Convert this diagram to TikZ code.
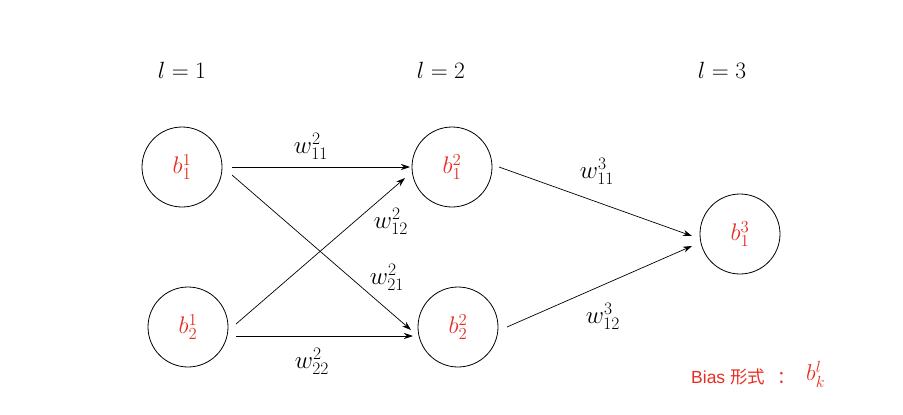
\RequirePackage{fix-cm}
\documentclass[tikz,border=0pt]{standalone}
\usepackage{amsmath}
\usepackage{fontspec}
\newfontfamily\cjk{Noto Sans CJK SC}
\newfontfamily\arialike{Liberation Sans}
\usetikzlibrary{arrows.meta}
\definecolor{bred}{RGB}{232,45,35}
\begin{document}
\begin{tikzpicture}[x=1pt,y=-1pt,
  neuron/.style={circle,draw=black,line width=0.8pt,minimum size=80pt,inner sep=0pt,text=bred,font=\fontsize{24}{28}\selectfont},
  wlab/.style={font=\fontsize{25}{29}\selectfont,inner sep=0pt},
  llab/.style={font=\fontsize{23.5}{27}\selectfont,inner sep=0pt},
  conn/.style={-{Stealth[length=9pt,width=6pt]},line width=0.7pt}]
\useasboundingbox[fill=white] (0,0) rectangle (903,415);
\node[neuron] (b11) at (182,167) {$b_1^1$};
\node[neuron] (b21) at (188,327) {$b_2^1$};
\node[neuron] (b12) at (452,167) {$b_1^2$};
\node[neuron] (b22) at (458,327) {$b_2^2$};
\node[neuron] (b13) at (740,234) {$b_1^3$};
\node[llab] (l1) at (182,70) {$l=1$};
\node[llab] (l2) at (441,70) {$l=2$};
\node[llab] (l3) at (722,70) {$l=3$};
\coordinate (s1) at (232,167); \coordinate (e1) at (410,167);
\coordinate (s2) at (232,175); \coordinate (e2) at (411,330);
\coordinate (s3) at (236,324); \coordinate (e3) at (405,178);
\coordinate (s4) at (236,336); \coordinate (e4) at (413,336);
\coordinate (s5) at (499,167); \coordinate (e5) at (692,236);
\coordinate (s6) at (507,327); \coordinate (e6) at (692,246);
\draw[conn] (s1) -- (e1);
\draw[conn] (s2) -- (e2);
\draw[conn] (s3) -- (e3);
\draw[conn] (s4) -- (e4);
\draw[conn] (s5) -- (e5);
\draw[conn] (s6) -- (e6);
\node[wlab] (w1) at (311,146) {$w_{11}^2$};
\node[wlab] (w2) at (391,221) {$w_{12}^2$};
\node[wlab] (w3) at (387,277) {$w_{21}^2$};
\node[wlab] (w4) at (312,361) {$w_{22}^2$};
\node[wlab] (w5) at (597,171) {$w_{11}^3$};
\node[wlab] (w6) at (603,316) {$w_{12}^3$};
\node[inner sep=0pt,anchor=west,text=bred,font=\fontsize{17.5}{20}\selectfont] (bias) at (691,377) {\arialike Bias \cjk 形式\hspace{12pt}：};
\node[inner sep=0pt,anchor=west,text=bred,font=\fontsize{23}{27}\selectfont] (bkl) at (806,374) {$b_k^l$};
\end{tikzpicture}
\end{document}
